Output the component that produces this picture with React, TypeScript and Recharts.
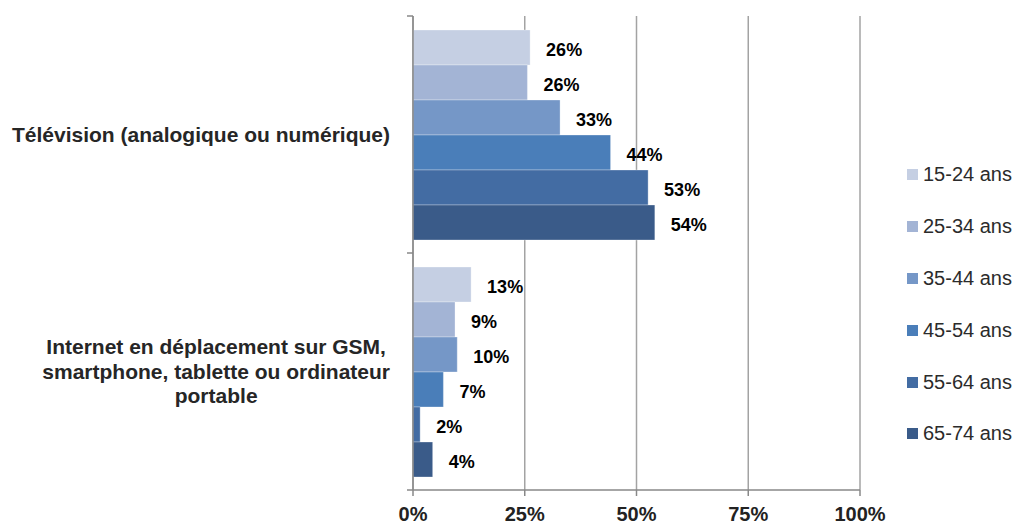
import React from 'react';
import { BarChart, Bar, XAxis, YAxis, CartesianGrid, Legend, LabelList } from 'recharts';

const categories = [
  'Télévision (analogique ou numérique)',
  'Internet en déplacement sur GSM, smartphone, tablette ou ordinateur portable',
];
const categoryLines = [
  ['Télévision (analogique ou numérique)'],
  ['Internet en déplacement sur GSM,', 'smartphone, tablette ou ordinateur', 'portable'],
];
const seriesNames = ['15-24 ans', '25-34 ans', '35-44 ans', '45-54 ans', '55-64 ans', '65-74 ans'];
const tvValues = [26.2, 25.6, 32.9, 44.2, 52.6, 54.1];
const internetValues = [13.0, 9.4, 9.9, 6.8, 1.6, 4.4];
const xTicks = [0, 25, 50, 75, 100];
const colors = ['#C5CFE3', '#A3B4D5', '#7597C7', '#4A7EB9', '#436CA3', '#3A5B89'];

const seriesByCategory = [tvValues, internetValues];
const data = categories.map((name, ci) => {
  const row: Record<string, any> = { name, idx: ci };
  seriesNames.forEach((s, si) => {
    row[s] = seriesByCategory[ci][si];
  });
  return row;
});

const W = 1021;
const H = 524;
const X_AXIS_H = 30;
const MARGIN = { top: 16, right: 161, bottom: 4, left: 0 };
const Y_AXIS_W = 413;
const PLOT_H = H - MARGIN.top - MARGIN.bottom - X_AXIS_H;
const BAND = PLOT_H / categories.length;
const FONT = "'Liberation Sans', Arial, sans-serif";
const CAT_FONT_SIZE = 21;
const LINE_H = 24.5;

let measureCtx: CanvasRenderingContext2D | null = null;
function textWidth(t: string, font: string) {
  if (!measureCtx) {
    const c = document.createElement('canvas');
    measureCtx = c.getContext('2d');
  }
  if (!measureCtx) return t.length * 10;
  measureCtx.font = font;
  return measureCtx.measureText(t).width;
}

const CategoryTick = (props: any) => {
  const { y, payload, index, visibleTicksCount } = props;
  const ci = categories.indexOf(payload.value);
  const lines = categoryLines[ci] || [String(payload.value)];
  const font = `bold ${CAT_FONT_SIZE}px ${FONT}`;
  const widths = lines.map((l) => textWidth(l, font));
  const blockW = Math.max(...widths);
  const rightEdge = Y_AXIS_W - 23;
  const cx = rightEdge - blockW / 2;
  const startY = y - ((lines.length - 1) * LINE_H) / 2;
  const isLast = index === visibleTicksCount - 1;
  return (
    <g>
      <line x1={Y_AXIS_W - 6} x2={Y_AXIS_W} y1={y - BAND / 2} y2={y - BAND / 2} stroke="#888" strokeWidth={1.5} />
      {isLast && (
        <line x1={Y_AXIS_W - 6} x2={Y_AXIS_W} y1={y + BAND / 2} y2={y + BAND / 2} stroke="#888" strokeWidth={1.5} />
      )}
      <text
        textAnchor="middle"
        fontFamily={FONT}
        fontWeight="bold"
        fontSize={CAT_FONT_SIZE}
        fill="#262626"
      >
        {lines.map((l, i) => (
          <tspan key={i} x={cx} y={startY + i * LINE_H} dy="0.35em">
            {l}
          </tspan>
        ))}
      </text>
    </g>
  );
};

const LegendContent = (props: any) => {
  const { payload } = props;
  return (
    <div style={{ fontFamily: FONT }}>
      {(payload || []).map((p: any, i: number) => (
        <div key={i} style={{ display: 'flex', alignItems: 'center', height: 51.8 }}>
          <div style={{ width: 11, height: 11, background: p.color, marginRight: 5 }} />
          <span style={{ fontSize: 20, color: '#2b2b2b', whiteSpace: 'nowrap' }}>{p.value}</span>
        </div>
      ))}
    </div>
  );
};

export default function App() {
  return (
    <div style={{ position: 'absolute', left: 0, top: 0, background: '#fff' }}>
      <BarChart
        width={W}
        height={H}
        data={data}
        layout="vertical"
        margin={MARGIN}
        barCategoryGap={14}
        barGap={0}
      >
        <CartesianGrid horizontal={false} stroke="#A3A3A3" strokeWidth={1.5} />
        <XAxis
          type="number"
          domain={[0, 100]}
          ticks={xTicks}
          height={X_AXIS_H}
          tickFormatter={(v: number) => `${v}%`}
          axisLine={{ stroke: '#888', strokeWidth: 1.5 }}
          tickLine={{ stroke: '#888', strokeWidth: 1.5 }}
          tickSize={6}
          tickMargin={11}
          tick={{ fontFamily: FONT, fontWeight: 'bold', fontSize: 20, fill: '#222' }}
          interval={0}
        />
        <YAxis
          type="category"
          dataKey="name"
          width={Y_AXIS_W}
          axisLine={{ stroke: '#888', strokeWidth: 1.5 }}
          tickLine={false}
          tick={<CategoryTick />}
          interval={0}
        />
        <Legend
          layout="horizontal"
          align="center"
          verticalAlign="middle"
          content={<LegendContent />}
          wrapperStyle={{ position: 'absolute', left: 907, top: 149, width: 114, height: 312 }}
        />
        {seriesNames.map((s, i) => (
          <Bar
            key={s}
            dataKey={s}
            name={s}
            fill={colors[i]}
            stroke="#ffffff"
            strokeOpacity={0.3}
            strokeWidth={1}
            isAnimationActive={false}
          >
            <LabelList
              dataKey={s}
              position="right"
              offset={16}
              dy={2}
              formatter={(v: number) => `${Math.round(v)}%`}
              style={{ fontFamily: FONT, fontWeight: 'bold', fontSize: 18, fill: '#000' }}
            />
          </Bar>
        ))}
      </BarChart>
    </div>
  );
}
